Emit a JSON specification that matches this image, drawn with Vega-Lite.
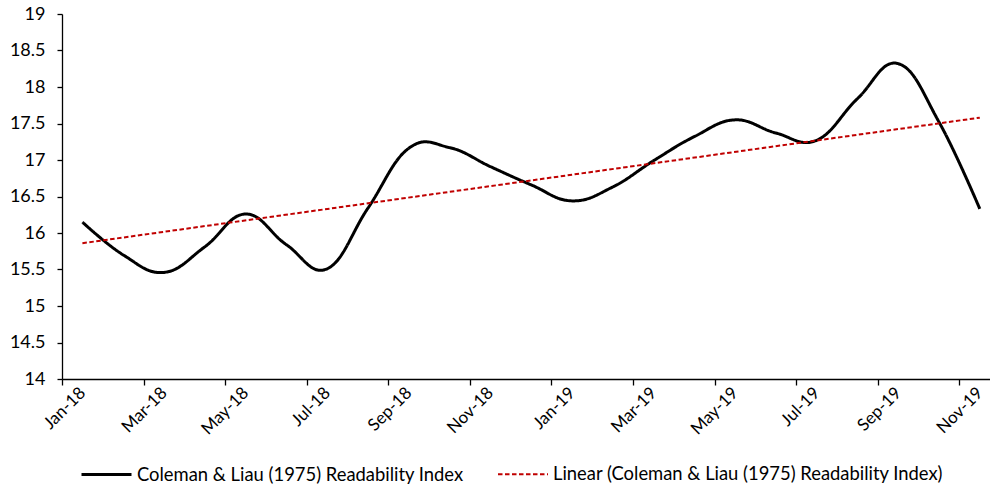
{
  "$schema": "https://vega.github.io/schema/vega-lite/v6.json",
  "width": 928,
  "height": 365,
  "autosize": {"type": "none"},
  "padding": {"left": 62, "top": 14, "right": 0, "bottom": 107},
  "background": "white",
  "config": {
    "view": {"stroke": null},
    "font": "Lato",
    "axis": {"grid": false, "domainColor": "#000000", "tickColor": "#000000", "labelColor": "#000000", "labelFont": "Lato", "labelFontSize": 17, "title": null, "domainWidth": 1.3, "tickWidth": 1.3}
  },
  "datasets": {
    "readability": [
      {"i": 0, "month": "Jan-18", "value": 16.15, "series": "Coleman & Liau (1975) Readability Index"},
      {"i": 1, "month": "Feb-18", "value": 15.7, "series": "Coleman & Liau (1975) Readability Index"},
      {"i": 2, "month": "Mar-18", "value": 15.46, "series": "Coleman & Liau (1975) Readability Index"},
      {"i": 3, "month": "Apr-18", "value": 15.81, "series": "Coleman & Liau (1975) Readability Index"},
      {"i": 4, "month": "May-18", "value": 16.26, "series": "Coleman & Liau (1975) Readability Index"},
      {"i": 5, "month": "Jun-18", "value": 15.84, "series": "Coleman & Liau (1975) Readability Index"},
      {"i": 6, "month": "Jul-18", "value": 15.51, "series": "Coleman & Liau (1975) Readability Index"},
      {"i": 7, "month": "Aug-18", "value": 16.34, "series": "Coleman & Liau (1975) Readability Index"},
      {"i": 8, "month": "Sep-18", "value": 17.16, "series": "Coleman & Liau (1975) Readability Index"},
      {"i": 9, "month": "Oct-18", "value": 17.17, "series": "Coleman & Liau (1975) Readability Index"},
      {"i": 10, "month": "Nov-18", "value": 16.91, "series": "Coleman & Liau (1975) Readability Index"},
      {"i": 11, "month": "Dec-18", "value": 16.66, "series": "Coleman & Liau (1975) Readability Index"},
      {"i": 12, "month": "Jan-19", "value": 16.44, "series": "Coleman & Liau (1975) Readability Index"},
      {"i": 13, "month": "Feb-19", "value": 16.63, "series": "Coleman & Liau (1975) Readability Index"},
      {"i": 14, "month": "Mar-19", "value": 16.99, "series": "Coleman & Liau (1975) Readability Index"},
      {"i": 15, "month": "Apr-19", "value": 17.32, "series": "Coleman & Liau (1975) Readability Index"},
      {"i": 16, "month": "May-19", "value": 17.55, "series": "Coleman & Liau (1975) Readability Index"},
      {"i": 17, "month": "Jun-19", "value": 17.37, "series": "Coleman & Liau (1975) Readability Index"},
      {"i": 18, "month": "Jul-19", "value": 17.27, "series": "Coleman & Liau (1975) Readability Index"},
      {"i": 19, "month": "Aug-19", "value": 17.84, "series": "Coleman & Liau (1975) Readability Index"},
      {"i": 20, "month": "Sep-19", "value": 18.32, "series": "Coleman & Liau (1975) Readability Index"},
      {"i": 21, "month": "Oct-19", "value": 17.52, "series": "Coleman & Liau (1975) Readability Index"},
      {"i": 22, "month": "Nov-19", "value": 16.33, "series": "Coleman & Liau (1975) Readability Index"}
    ],
    "trend": [
      {"i": 0, "month": "Jan-18", "value": 15.86, "series": "Linear (Coleman & Liau (1975) Readability Index)"},
      {"i": 22, "month": "Nov-19", "value": 17.58, "series": "Linear (Coleman & Liau (1975) Readability Index)"}
    ]
  },
  "resolve": {"axis": {"x": "independent"}},
  "layer": [
    {
      "data": {"name": "readability"},
      "mark": {"type": "line", "interpolate": "cardinal", "tension": -0.2, "clip": true},
      "encoding": {
        "x": {
          "field": "i", "type": "quantitative",
          "scale": {"domain": [-0.5, 22.25], "nice": false, "zero": false},
          "axis": {
            "orient": "bottom",
            "values": [0, 2, 4, 6, 8, 10, 12, 14, 16, 18, 20, 22],
            "ticks": false, "domain": false,
            "labelAngle": -45, "labelAlign": "right", "labelBaseline": "middle",
            "labelPadding": 11, "labelFontSize": 17, "labelOverlap": false, "labelFlush": false,
            "labelExpr": "['Jan-18','Mar-18','May-18','Jul-18','Sep-18','Nov-18','Jan-19','Mar-19','May-19','Jul-19','Sep-19','Nov-19'][round(datum.value/2)]"
          }
        },
        "y": {
          "field": "value", "type": "quantitative",
          "scale": {"domain": [14, 19], "nice": false, "zero": false},
          "axis": {"values": [14, 14.5, 15, 15.5, 16, 16.5, 17, 17.5, 18, 18.5, 19], "labelExpr": "'' + datum.value", "labelOverlap": false, "tickSize": 5, "labelPadding": 12, "labelFontSize": 18}
        },
        "color": {
          "field": "series", "type": "nominal",
          "scale": {"domain": ["Coleman & Liau (1975) Readability Index", "Linear (Coleman & Liau (1975) Readability Index)"], "range": ["#000000", "#c00000"]},
          "legend": {
            "title": null, "orient": "none", "legendX": 18, "legendY": 434, "direction": "horizontal",
            "symbolType": "stroke", "symbolSize": 2500, "symbolStrokeWidth": 2.5,
            "labelFont": "Lato", "labelFontSize": 18.4, "labelColor": "#000000", "labelOffset": 4, "columnPadding": 30, "labelLimit": 500
          }
        },
        "strokeDash": {
          "field": "series", "type": "nominal",
          "scale": {"domain": ["Coleman & Liau (1975) Readability Index", "Linear (Coleman & Liau (1975) Readability Index)"], "range": [[1, 0], [4.5, 2.5]]},
          "legend": null
        },
        "strokeWidth": {
          "field": "series", "type": "nominal",
          "scale": {"domain": ["Coleman & Liau (1975) Readability Index", "Linear (Coleman & Liau (1975) Readability Index)"], "range": [3, 2]},
          "legend": null
        }
      }
    },
    {
      "data": {"name": "trend"},
      "mark": {"type": "line", "clip": true},
      "encoding": {
        "x": {
          "field": "i", "type": "quantitative",
          "axis": {
            "orient": "bottom",
            "values": [-0.5, 1.5, 3.5, 5.5, 7.5, 9.5, 11.5, 13.5, 15.5, 17.5, 19.5, 21.5],
            "labels": false, "ticks": true, "tickSize": 6, "domain": true
          }
        },
        "y": {
          "field": "value", "type": "quantitative",
          "axis": {"values": [14, 14.5, 15, 15.5, 16, 16.5, 17, 17.5, 18, 18.5, 19], "labelExpr": "'' + datum.value", "labelOverlap": false, "tickSize": 5, "labelPadding": 12, "labelFontSize": 18}
        },
        "color": {"field": "series", "type": "nominal"},
        "strokeDash": {"field": "series", "type": "nominal"},
        "strokeWidth": {"field": "series", "type": "nominal"}
      }
    }
  ]
}
